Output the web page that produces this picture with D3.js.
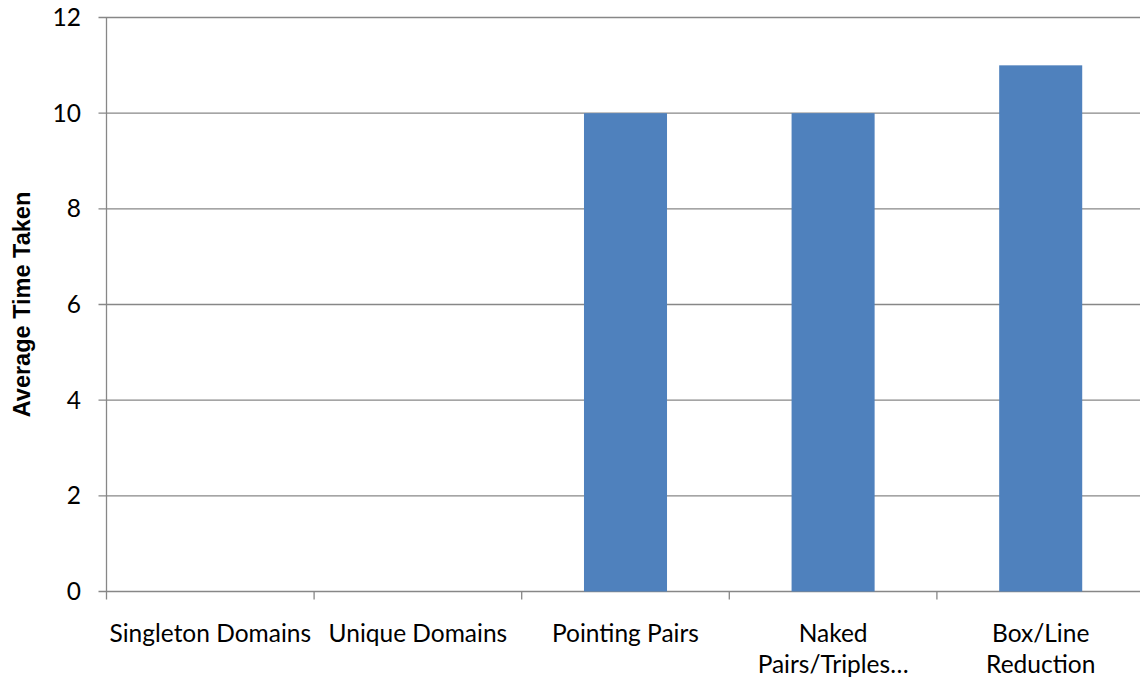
<!DOCTYPE html>
<html>
<head>
<meta charset="utf-8">
<script src="https://cdn.jsdelivr.net/npm/d3@7"></script>
<style>
  html, body { margin: 0; padding: 0; background: #fff; }
  svg { display: block; }
</style>
</head>
<body>
<svg id="chart" width="1140" height="682"></svg>
<script>
// Average time per solving technique
const categories = ["Singleton Domains", "Unique Domains", "Pointing Pairs", "Naked Pairs/Triples…", "Box/Line Reduction"];
const categoryLines = [["Singleton Domains"], ["Unique Domains"], ["Pointing Pairs"], ["Naked", "Pairs/Triples…"], ["Box/Line", "Reduction"]];
const values = [0, 0, 10, 10, 11];
const yTicks = [0, 2, 4, 6, 8, 10, 12];
const yTitle = "Average Time Taken";

const svg = d3.select("#chart");
const plotLeft = 106.5, plotRight = 1144.5, plotTop = 17.5, plotBottom = 591.5;

const x = d3.scaleBand().domain(categories).range([plotLeft, plotRight]);
const y = d3.scaleLinear().domain([0, 12]).range([plotBottom, plotTop]);

const gridColor = "#878787";
const labelFont = "Lato, 'Open Sans', sans-serif";
const labelSize = 24.5;

// horizontal gridlines
svg.append("g")
  .selectAll("line")
  .data(yTicks)
  .join("line")
  .attr("x1", plotLeft - 8).attr("x2", plotRight)
  .attr("y1", d => y(d)).attr("y2", d => y(d))
  .attr("stroke", gridColor).attr("stroke-width", 1.3);

// bars
const barW = x.bandwidth() * 0.4;
svg.append("g")
  .selectAll("rect")
  .data(values.map((v, i) => ({ c: categories[i], v })))
  .join("rect")
  .attr("x", d => x(d.c) + (x.bandwidth() - barW) / 2)
  .attr("width", barW)
  .attr("y", d => y(d.v))
  .attr("height", d => y(0) - y(d.v))
  .attr("fill", "#4F81BD");

// y axis line
svg.append("line")
  .attr("x1", plotLeft).attr("x2", plotLeft)
  .attr("y1", y(12)).attr("y2", y(0))
  .attr("stroke", gridColor).attr("stroke-width", 1.3);

// y tick labels
svg.append("g")
  .selectAll("text")
  .data(yTicks)
  .join("text")
  .attr("x", 81)
  .attr("y", d => y(d))
  .attr("dy", "0.35em")
  .attr("text-anchor", "end")
  .attr("font-family", labelFont)
  .attr("font-size", labelSize)
  .attr("fill", "#000")
  .text(d => d);

// category tick marks
const bounds = categories.map(c => x(c)).concat([plotRight]);
svg.append("g")
  .selectAll("line")
  .data(bounds)
  .join("line")
  .attr("x1", d => d).attr("x2", d => d)
  .attr("y1", y(0)).attr("y2", y(0) + 8)
  .attr("stroke", gridColor).attr("stroke-width", 1.3);

// category labels
const catG = svg.append("g")
  .selectAll("text")
  .data(categories)
  .join("text")
  .attr("x", d => x(d) + x.bandwidth() / 2)
  .attr("y", 642)
  .attr("text-anchor", "middle")
  .attr("font-family", labelFont)
  .attr("font-size", labelSize)
  .attr("fill", "#000");
catG.selectAll("tspan")
  .data((d, i) => categoryLines[i])
  .join("tspan")
  .attr("x", function() { return d3.select(this.parentNode).attr("x"); })
  .attr("dy", (d, i) => i === 0 ? 0 : 31)
  .text(d => d);

// y axis title
svg.append("text")
  .attr("transform", `translate(30, ${(plotTop + plotBottom) / 2}) rotate(-90)`)
  .attr("text-anchor", "middle")
  .attr("font-family", "'Liberation Sans', Arial, sans-serif")
  .attr("font-weight", "bold")
  .attr("font-size", 23.5)
  .attr("fill", "#000")
  .text(yTitle);
</script>
</body>
</html>
